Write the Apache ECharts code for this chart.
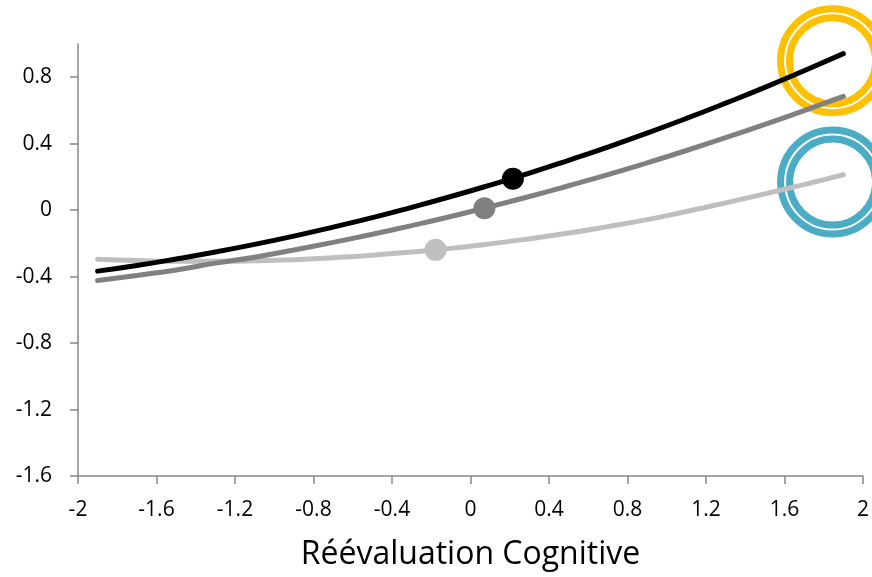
<!DOCTYPE html>
<html>
<head>
<meta charset="utf-8">
<script src="https://cdn.jsdelivr.net/npm/echarts@6/dist/echarts.min.js"></script>
<style>html,body{margin:0;padding:0;background:#fff}#c{width:872px;height:577px}</style>
</head>
<body>
<div id="c"></div>
<script>
const xs = [-1.9,-1.7,-1.5,-1.3,-1.1,-0.9,-0.7,-0.5,-0.3,-0.1,0.1,0.3,0.5,0.7,0.9,1.1,1.3,1.5,1.7,1.9];
const blackVals = [-0.367,-0.333,-0.294,-0.252,-0.206,-0.156,-0.102,-0.045,0.017,0.082,0.151,0.223,0.300,0.380,0.464,0.552,0.644,0.739,0.839,0.942];
const grayVals  = [-0.424,-0.393,-0.360,-0.319,-0.283,-0.240,-0.194,-0.145,-0.093,-0.038,0.021,0.082,0.147,0.214,0.285,0.359,0.436,0.516,0.599,0.685];
const lightVals = [-0.295,-0.303,-0.308,-0.308,-0.305,-0.298,-0.286,-0.271,-0.252,-0.230,-0.203,-0.172,-0.138,-0.099,-0.057,-0.008,0.044,0.098,0.154,0.213];
const blackPoint = [0.216, 0.189];
const grayPoint  = [0.071, 0.012];
const lightPoint = [-0.178, -0.239];
const goldRing = [1.845, 0.899];
const blueRing = [1.845, 0.169];
const xTicks = [-2,-1.6,-1.2,-0.8,-0.4,0,0.4,0.8,1.2,1.6,2];
const yTicks = [-1.6,-1.2,-0.8,-0.4,0,0.4,0.8];
const xTitle = 'Réévaluation Cognitive';

const pair = vals => xs.map((x,i)=>[x, vals[i]]);
const fmt = v => { const r = Math.round(v*10)/10; return String(r); };
const font = '"Open Sans", "Liberation Sans", sans-serif';

function lineSeries(vals, color){
  return {type:'line', data:pair(vals), smooth:true, showSymbol:false, z:5,
    lineStyle:{color:color, width:5, cap:'round'}, silent:true};
}
function pointSeries(pt, color){
  return {type:'scatter', data:[pt], symbol:'circle', symbolSize:22, z:6,
    itemStyle:{color:color, opacity:1}, silent:true};
}
function ringSeries(pt, color, size){
  return {type:'scatter', data:[pt], symbol:'circle', symbolSize:size, z:2, clip:false,
    itemStyle:{color:'rgba(0,0,0,0)', borderColor:color, borderWidth:7, opacity:1}, silent:true};
}

const chart = echarts.init(document.getElementById('c'), null, {renderer:'canvas'});
chart.setOption({
  animation:false,
  backgroundColor:'#ffffff',
  grid:{left:78, right:9, top:44, bottom:101},
  xAxis:{type:'value', min:-2, max:2, interval:0.4,
    name:xTitle, nameLocation:'middle', nameGap:63,
    nameTextStyle:{fontFamily:font, fontSize:32, color:'#000'},
    axisLine:{show:true, onZero:false, lineStyle:{color:'#888888', width:1.5}},
    axisTick:{show:true, length:8, lineStyle:{color:'#888888', width:1.5}, customValues:xTicks},
    axisLabel:{fontFamily:font, fontSize:21, color:'#000', margin:24, formatter:fmt, customValues:xTicks},
    splitLine:{show:false}},
  yAxis:{type:'value', min:-1.6, max:1.0, interval:0.4,
    axisLine:{show:true, onZero:false, lineStyle:{color:'#888888', width:1.5}},
    axisTick:{show:true, length:8, lineStyle:{color:'#888888', width:1.5}, customValues:yTicks},
    axisLabel:{fontFamily:font, fontSize:21, color:'#000', margin:26, formatter:fmt, customValues:yTicks},
    splitLine:{show:false}},
  series:[
    ringSeries(goldRing, '#FFC000', 104),
    ringSeries(goldRing, '#FFC000', 86),
    ringSeries(blueRing, '#4BACC6', 104),
    ringSeries(blueRing, '#4BACC6', 86),
    lineSeries(lightVals, '#BFBFBF'),
    lineSeries(grayVals, '#808080'),
    lineSeries(blackVals, '#000000'),
    pointSeries(lightPoint, '#BFBFBF'),
    pointSeries(grayPoint, '#808080'),
    pointSeries(blackPoint, '#000000')
  ]
});
</script>
</body>
</html>
